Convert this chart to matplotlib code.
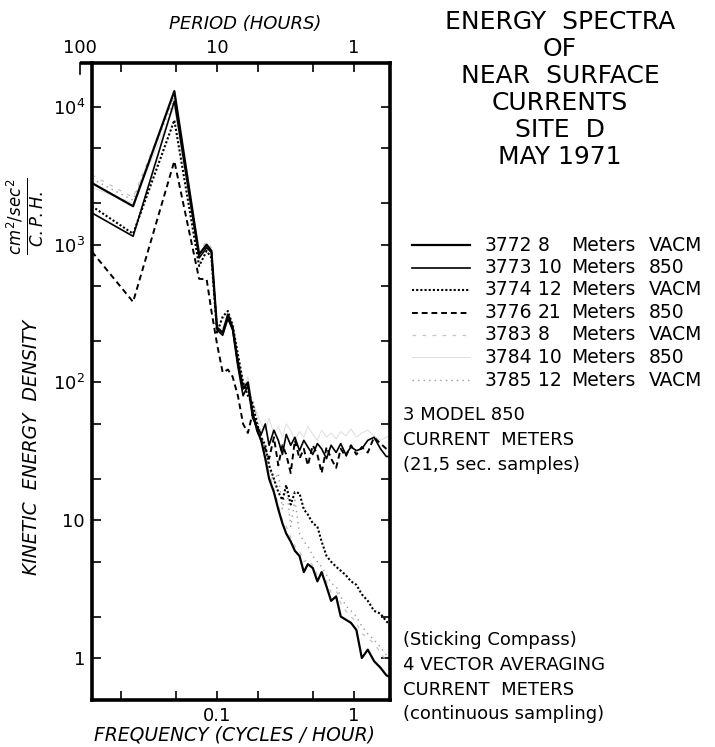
import matplotlib
matplotlib.use("Agg")
import matplotlib.pyplot as plt
from matplotlib.ticker import FixedLocator, FixedFormatter, NullLocator
from matplotlib.lines import Line2D

plt.rcParams['font.family'] = ['DejaVu Sans']
plt.rcParams['mathtext.fontset'] = 'dejavusans'

# frequency (cycles / hour) shared by all spectra
freq = [0.0122, 0.0244, 0.0488, 0.074, 0.084, 0.091, 0.100, 0.110, 0.120, 0.130,
        0.142, 0.155, 0.168, 0.182, 0.196, 0.21, 0.225, 0.24, 0.26, 0.28,
        0.30, 0.32, 0.345, 0.37, 0.40, 0.43, 0.46, 0.50, 0.54, 0.58,
        0.63, 0.68, 0.74, 0.80, 0.87, 0.95, 1.04, 1.14, 1.26, 1.40,
        1.56, 1.72, 1.86]

# kinetic energy density (cm2/sec2 / C.P.H.)
s3772 = [2800, 1900, 13000, 850, 1000, 900, 250, 230, 310, 250,
         140, 90, 100, 60, 45, 38, 28, 20, 16, 12,
         9.5, 8, 7, 6, 5.5, 4.2, 4.8, 4.5, 3.6, 4.2,
         3.3, 2.6, 2.8, 2.0, 1.9, 1.8, 1.6, 1.0, 1.15, 0.95,
         0.85, 0.75, 0.72]
s3773 = [1700, 1150, 11000, 800, 950, 880, 240, 220, 290, 240,
         130, 80, 95, 55, 48, 42, 50, 35, 45, 38,
         30, 42, 35, 40, 32, 38, 34, 30, 36, 33,
         28, 35, 31, 36, 30, 34, 32, 33, 38, 40,
         33, 29, 29]
s3774 = [1900, 1200, 8000, 700, 900, 800, 230, 300, 330, 260,
         160, 100, 80, 70, 50, 40, 35, 25, 20, 16,
         14, 18, 13, 16, 15.7, 12, 11, 9.5, 9, 7,
         5.5, 5.0, 4.6, 4.3, 4.0, 3.6, 3.4, 2.9, 2.6, 2.2,
         2.1, 1.85, 1.7]
s3776 = [890, 384, 4040, 565, 560, 330, 190, 118, 124, 110,
         80, 50, 43, 60, 45, 38, 33, 28, 40, 25,
         35, 30, 22, 38, 28, 33, 25, 35, 30, 22,
         34, 28, 24, 33, 29, 35, 30, 34, 31, 40,
         36, 33, 32]
s3783 = [3200, 2200, 12000, 900, 1050, 950, 260, 240, 320, 270,
         150, 95, 105, 65, 50, 40, 30, 22, 17, 13,
         10, 9, 7.5, 6.5, 6, 5, 5.2, 4.7, 4, 4.3,
         3.6, 3.0, 3.1, 2.5, 2.2, 2.0, 1.8, 1.5, 1.4, 1.27,
         1.1, 0.95, 0.9]
s3784 = [2600, 2000, 10000, 820, 960, 860, 240, 250, 300, 250,
         140, 90, 110, 70, 60, 50, 45, 55, 42, 48,
         40, 50, 45, 38, 44, 40, 48, 42, 38, 45,
         40, 43, 39, 44, 41, 46, 40, 43, 45, 41,
         38, 40, 42]
s3785 = [3000, 2100, 11500, 880, 980, 870, 250, 290, 320, 240,
         150, 100, 85, 75, 55, 42, 33, 24, 19, 22,
         12, 18, 9, 14, 8, 7, 6.5, 5.5, 5, 4.6,
         4.0, 3.5, 3.3, 2.8, 2.4, 2.2, 2.0, 1.7, 1.5, 1.35,
         1.2, 1.05, 1.0]

meters = ['3772', '3773', '3774', '3776', '3783', '3784', '3785']
depths = ['8', '10', '12', '21', '8', '10', '12']
models = ['VACM', '850', 'VACM', '850', 'VACM', '850', 'VACM']
spectra = [s3772, s3773, s3774, s3776, s3783, s3784, s3785]

freq_ticks = [0.02, 0.05, 0.1, 0.2, 0.5, 1]
freq_labels = ['', '', '0.1', '', '', '1']
period_ticks = [100, 10, 1]
ked_ticks = [1, 2, 5, 10, 20, 50, 100, 200, 500, 1000, 2000, 5000, 10000]
ked_labels = ['1', '', '', '10', '', '', '$10^2$', '', '', '$10^3$', '', '', '$10^4$']

title_lines = ['ENERGY  SPECTRA', 'OF', 'NEAR  SURFACE', 'CURRENTS', 'SITE  D', 'MAY 1971']

styles = {
    '3772': dict(color='black', ls='-', lw=1.6),
    '3773': dict(color='black', ls='-', lw=1.2),
    '3774': dict(color='black', ls=(0, (1, 1)), lw=1.5),
    '3776': dict(color='black', ls=(0, (3, 2)), lw=1.4),
    '3783': dict(color='#c4c4c4', ls=(0, (3, 5)), lw=0.9),
    '3784': dict(color='#dedede', ls='-', lw=0.7),
    '3785': dict(color='#9a9a9a', ls=(0, (1, 3)), lw=1.0),
}

W, H = 715, 747


def fx(px):
    return px / W


def fy(py):
    return 1 - py / H


fig = plt.figure(figsize=(W / 100, H / 100), dpi=100)
ax = fig.add_axes([fx(92), fy(700), (390 - 92) / W, (700 - 63) / H])
ax.set_xscale('log')
ax.set_yscale('log')
xmin, xmax = 0.01223, 1.83
ymin, ymax = 0.496, 20800
ax.set_xlim(xmin, xmax)
ax.set_ylim(ymin, ymax)

# faint curves underneath, black ones on top
order = ['3784', '3783', '3785', '3776', '3774', '3773', '3772']
for m in order:
    vals = spectra[meters.index(m)]
    ax.plot(freq, vals, **styles[m])

ax.xaxis.set_major_locator(FixedLocator(freq_ticks))
ax.xaxis.set_major_formatter(FixedFormatter(freq_labels))
ax.xaxis.set_minor_locator(NullLocator())
ax.yaxis.set_major_locator(FixedLocator(ked_ticks))
ax.yaxis.set_major_formatter(FixedFormatter(ked_labels))
ax.yaxis.set_minor_locator(NullLocator())
ax.tick_params(axis='both', which='major', direction='in', length=6.5, width=1.2,
               labelsize=13, top=True, right=True, pad=5)
for sp in ax.spines.values():
    sp.set_linewidth(2.6)

# period scale on top
trans = ax.get_xaxis_transform()
for p in period_ticks:
    ax.text(1 / p, 1.01, str(p), transform=trans, ha='center', va='bottom', fontsize=13)
ax.plot([0.01, xmin], [1, 1], transform=trans, color='black', lw=2.6,
        clip_on=False, solid_capstyle='butt')
ax.plot([0.01, 0.01], [1, 1 - 11 / 637], transform=trans, color='black', lw=1.2,
        clip_on=False)

fig.text(fx(245), fy(24), 'PERIOD (HOURS)', style='italic', fontsize=13,
         ha='center', va='center')
fig.text(fx(235), fy(735), 'FREQUENCY (CYCLES / HOUR)', style='italic', fontsize=13.5,
         ha='center', va='center')
fig.text(fx(32), fy(447), 'KINETIC  ENERGY  DENSITY', style='italic', fontsize=13.5,
         rotation=90, ha='center', va='center')
fig.text(fx(26), fy(216), r'$\frac{cm^2/sec^2}{C.P.H.}$', fontsize=17,
         rotation=90, ha='center', va='center')

for i, line in enumerate(title_lines):
    fig.text(fx(560), fy(22 + 27 * i), line, fontsize=18, ha='center', va='center')

for i, m in enumerate(meters):
    y = 245 + 22.5 * i
    fig.add_artist(Line2D([fx(412), fx(470)], [fy(y), fy(y)], transform=fig.transFigure,
                          **styles[m]))
    fig.text(fx(485), fy(y), m, fontsize=13.5, ha='left', va='center')
    fig.text(fx(538), fy(y), depths[i], fontsize=13.5, ha='left', va='center')
    fig.text(fx(571), fy(y), 'Meters', fontsize=13.5, ha='left', va='center')
    fig.text(fx(649), fy(y), models[i], fontsize=13.5, ha='left', va='center')

notes = [(415, '3 MODEL 850'), (440, 'CURRENT  METERS'), (465, '(21,5 sec. samples)'),
         (640, '(Sticking Compass)'), (665, '4 VECTOR AVERAGING'),
         (690, 'CURRENT  METERS'), (714, '(continuous sampling)')]
for y, txt in notes:
    fig.text(fx(403), fy(y), txt, fontsize=13, ha='left', va='center')

fig.savefig('out.png', dpi=100)
